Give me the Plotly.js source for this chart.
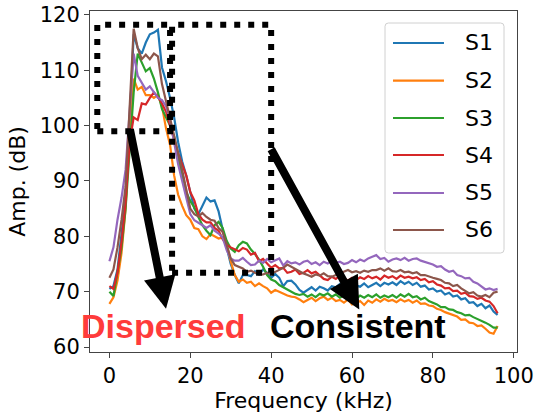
<!DOCTYPE html>
<html>
<head>
<meta charset="utf-8">
<script src="https://cdn.plot.ly/plotly-3.0.1.min.js"></script>
<style>html,body{margin:0;padding:0;background:#fff;}#chart{width:536px;height:413px;}</style>
</head>
<body>
<div id="chart"></div>
<script>
// Frequency grid (kHz), 1 kHz steps from 0 to 96
const freq = [];
for (let f = 0; f <= 96; f++) freq.push(f);

const seriesNames = ["S1", "S2", "S3", "S4", "S5", "S6"];
const seriesColors = ["#1f77b4", "#ff7f0e", "#2ca02c", "#d62728", "#9467bd", "#8c564b"];

const S1 = [70.5,71,74,80,87,100,116.5,114,113,115,
  116.5,116.8,117.3,110.5,108,105,101.5,97,93.5,91,
  88,85,84,85.5,87,86.3,86.5,84.5,81,78,
  75,73,71.5,73,73,72.8,73.7,73.1,74,73.4,
  72.5,73.2,72.5,71,71.9,72,71.3,70.3,69.8,70.3,
  70.8,70.2,70.9,70.6,70.2,71,70.8,71.4,70.7,71.2,
  70.6,71.1,70.9,71.5,70.8,71.2,71.6,71.0,71.6,71.3,
  71.7,71.2,71.9,71.4,71.8,71.2,71.6,70.9,71.1,70.4,
  70.6,70.0,70.2,69.5,69.8,69.1,69.3,68.6,68.8,68.0,
  68.1,67.4,67.8,67.0,67.5,66.4,65.8];
const S2 = [67.8,69,72,77,85,100,108.5,106.5,107,105.5,
  105.5,105,105.5,103.5,99.5,96.5,91,87.5,85.5,83.8,
  83,81.5,81.3,80,79.5,80.4,80.0,79.6,79.8,78.5,
  75.5,73,71.8,72.2,71.6,71.8,71,71.5,71,70.6,
  69.8,70.3,70,69.6,69.3,69.1,69.0,68.6,68.1,68.5,
  68.9,68.3,68.8,69.1,68.5,68.9,68.3,68.5,68.0,68.6,
  67.7,67.9,68.3,67.6,68.4,68.0,68.6,68.2,68.7,68.3,
  68.5,68.1,68.6,68.2,68.5,68.0,68.4,67.8,67.9,67.5,
  67.4,66.9,66.7,66.3,66.0,65.8,65.5,64.9,65.0,64.4,
  64.3,63.8,63.9,63.3,62.6,62.4,63.8];
const S3 = [70,69.2,73.5,78,85,96,106,113,111.5,109.8,
  110.4,108.5,106,103,101.5,100,98,94,91,88,
  86.4,85.2,83.5,82,81,80.2,82,82.6,81.5,79.2,
  77.8,77.2,78.4,79,78.7,77.6,76.8,75.8,74.5,73,
  72.2,71.9,71.2,70.8,70.4,69.9,69.6,69.4,69.6,69.1,
  69.5,69.0,69.6,69.3,69.7,69.1,69.5,68.9,69.3,68.8,
  69.2,68.7,69.3,68.9,69.4,69.0,69.5,68.9,69.3,69.0,
  69.4,68.9,69.5,69.1,69.6,69.0,69.2,68.6,68.9,68.3,
  68.0,67.7,67.2,67.2,66.8,66.7,66.3,66.1,65.7,65.8,
  65.4,65.1,64.8,64.4,64.0,63.5,63.5];
const S4 = [71,70.5,73.5,79,86,97,101.5,101,104,103.8,
  105,106,105.2,104,102.5,100,97.5,95,93,91,
  88,86.5,84,83,82.5,82.5,81.5,81,79.5,78.5,
  78,77.6,77.3,77.9,77.6,76.7,77,75.5,75.9,75.1,
  74.3,74.8,74.2,74.3,73.4,73.6,74.0,73.2,73.4,73.9,
  73.3,73.6,72.9,72.3,72.1,72.7,72.3,72.9,72.4,72.0,
  72.5,72.1,72.6,72.3,72.8,72.4,72.7,72.2,72.9,72.5,
  72.8,72.3,72.9,72.5,72.7,72.4,72.6,72.1,72.3,71.7,
  71.9,71.3,71.1,70.6,70.7,70.1,70.2,69.6,69.8,69.2,
  69.1,68.7,68.9,68.4,68.2,67.4,66.1];
const S5 = [75.5,78,83,87,92,103,113,109,107.7,106.5,
  107.1,106,105,104.6,103.5,101,97,93,90,87,
  84,82.9,82.5,82,81.5,82,81,80.5,79.8,77.5,
  76,75.6,75.6,76.1,75.4,74.8,74.9,75.6,75.2,75.9,
  75.3,75.6,76.0,74.7,75.5,75.1,75.3,74.9,75.4,75.6,
  75.0,75.3,74.8,75.4,75.1,75.6,75.2,75.4,75.0,75.2,
  75.7,75.3,75.8,75.5,76.0,76.3,76.6,75.9,76.1,75.4,
  75.8,76.0,75.7,76.1,75.6,75.9,76.0,75.6,75.4,75.1,
  74.9,74.5,74.6,74.0,73.6,73.8,73.0,72.8,72.4,72.5,
  71.8,71.5,71.0,70.4,70.6,70.3,70.5];
const S6 = [72.5,74,78,83,89,103,117.5,114,112,112.8,
  112,113,112.5,107.5,104.5,101.5,98,95,92,88.5,
  85,84,83.6,84.2,83.5,83,82.8,81.5,80.8,78.5,
  76,74.8,74.5,74.2,73.6,73.8,73.4,73.1,73.1,73.4,
  73.2,73.6,74.0,74.3,74.9,74.5,74.0,73.6,73.3,73.0,
  72.7,73.1,72.9,73.3,72.8,72.7,73.0,73.3,73.6,73.9,
  73.5,73.7,73.4,73.8,73.6,73.9,73.9,74.2,73.8,74.2,
  73.7,73.6,73.9,73.5,73.6,73.3,73.5,73.0,73.0,72.7,
  72.5,72.3,72.1,71.6,71.5,71.0,71.2,70.6,70.2,69.7,
  69.9,69.3,69.1,69.4,69.0,69.8,70.0];

const seriesValues = [S1, S2, S3, S4, S5, S6];

// Annotation geometry (data coordinates)
const dispersedBox = {x0: -3, x1: 15, y0: 99, y1: 118.2};
const consistentBox = {x0: 15.5, x1: 40, y0: 73.4, y1: 118.2};
const arrowDispersed = {tailX: 5.0, tailY: 99.6, headX: 14.0, headY: 66.9};
const arrowConsistent = {tailX: 39.8, tailY: 96, headX: 61.8, headY: 66.8};
const labelDispersed = {x: 13.3, y: 63.8, text: "Dispersed"};
const labelConsistent = {x: 61.5, y: 63.8, text: "Consistent"};

// Legend box geometry (paper coordinates)
const legendBox = {x0: 0.6909, x1: 0.9696, y0: 0.2903, y1: 0.9648};
const legendRowY = [0.9062, 0.7956, 0.6862, 0.5777, 0.4663, 0.3578];
const legendLineX = [0.7096, 0.8290];
const legendTextX = 0.8735;

const traces = seriesNames.map((name, i) => ({
  x: freq,
  y: seriesValues[i],
  type: "scatter",
  mode: "lines",
  name: name,
  line: {color: seriesColors[i], width: 2.2}
}));

const tickFont = {family: "DejaVu Sans", size: 21, color: "#000"};
const titleFont = {family: "DejaVu Sans", size: 22, color: "#000"};
const dotLine = {color: "#000", width: 6, dash: "6px,8px"};

// Legend frame with rounded corners (paper coordinates)
function roundedRectPath(b, rx, ry) {
  return "M" + (b.x0 + rx) + "," + b.y1 +
    " L" + (b.x1 - rx) + "," + b.y1 +
    " Q" + b.x1 + "," + b.y1 + " " + b.x1 + "," + (b.y1 - ry) +
    " L" + b.x1 + "," + (b.y0 + ry) +
    " Q" + b.x1 + "," + b.y0 + " " + (b.x1 - rx) + "," + b.y0 +
    " L" + (b.x0 + rx) + "," + b.y0 +
    " Q" + b.x0 + "," + b.y0 + " " + b.x0 + "," + (b.y0 + ry) +
    " L" + b.x0 + "," + (b.y1 - ry) +
    " Q" + b.x0 + "," + b.y1 + " " + (b.x0 + rx) + "," + b.y1 + " Z";
}

const shapes = [
  {type: "rect", xref: "x", yref: "y", x0: dispersedBox.x0, x1: dispersedBox.x1, y0: dispersedBox.y0, y1: dispersedBox.y1, line: dotLine, layer: "above"},
  {type: "rect", xref: "x", yref: "y", x0: consistentBox.x0, x1: consistentBox.x1, y0: consistentBox.y0, y1: consistentBox.y1, line: dotLine, layer: "above"},
  {type: "path", xref: "paper", yref: "paper", path: roundedRectPath(legendBox, 0.008, 0.01),
   fillcolor: "rgba(255,255,255,0.85)", line: {color: "#d0d0d0", width: 1}, layer: "above"}
];
const annotations = [
  {xref: "x", yref: "y", axref: "x", ayref: "y", x: arrowDispersed.headX, y: arrowDispersed.headY,
   ax: arrowDispersed.tailX, ay: arrowDispersed.tailY, text: "", showarrow: true,
   arrowhead: 2, arrowsize: 0.8, arrowwidth: 8, arrowcolor: "#000"},
  {xref: "x", yref: "y", axref: "x", ayref: "y", x: arrowConsistent.headX, y: arrowConsistent.headY,
   ax: arrowConsistent.tailX, ay: arrowConsistent.tailY, text: "", showarrow: true,
   arrowhead: 2, arrowsize: 0.8, arrowwidth: 8, arrowcolor: "#000"},
  {xref: "x", yref: "y", x: labelDispersed.x, y: labelDispersed.y, text: "<b>" + labelDispersed.text + "</b>",
   showarrow: false, font: {family: "Liberation Sans", size: 34, color: "#ff3b3b"}},
  {xref: "x", yref: "y", x: labelConsistent.x, y: labelConsistent.y, text: "<b>" + labelConsistent.text + "</b>",
   showarrow: false, font: {family: "Liberation Sans", size: 34, color: "#000"}}
];

seriesNames.forEach((name, i) => {
  shapes.push({type: "line", xref: "paper", yref: "paper",
    x0: legendLineX[0], x1: legendLineX[1], y0: legendRowY[i], y1: legendRowY[i],
    line: {color: seriesColors[i], width: 2.2}, layer: "above"});
  annotations.push({xref: "paper", yref: "paper", x: legendTextX, y: legendRowY[i],
    xanchor: "left", yanchor: "middle", text: name, showarrow: false,
    font: {family: "DejaVu Sans", size: 22, color: "#000"}});
});

const layout = {
  width: 536,
  height: 413,
  margin: {l: 90, r: 19, t: 11, b: 61},
  paper_bgcolor: "#fff",
  plot_bgcolor: "#fff",
  showlegend: false,
  xaxis: {
    range: [-4.8, 100.8],
    tickvals: [0, 20, 40, 60, 80, 100],
    ticks: "outside", ticklen: 5, tickwidth: 1, tickcolor: "#444",
    showline: true, linecolor: "#444", linewidth: 1, mirror: true,
    showgrid: false, zeroline: false,
    tickfont: tickFont,
    title: {text: "Frequency (kHz)", font: titleFont, standoff: 0}
  },
  yaxis: {
    range: [59.1, 120.7],
    tickvals: [60, 70, 80, 90, 100, 110, 120],
    ticks: "outside", ticklen: 5, tickwidth: 1, tickcolor: "#444",
    showline: true, linecolor: "#444", linewidth: 1, mirror: true,
    showgrid: false, zeroline: false,
    tickfont: tickFont,
    title: {text: "Amp. (dB)", font: titleFont, standoff: 8}
  },
  shapes: shapes,
  annotations: annotations
};

Plotly.newPlot("chart", traces, layout, {displayModeBar: false, staticPlot: true});
</script>
</body>
</html>
